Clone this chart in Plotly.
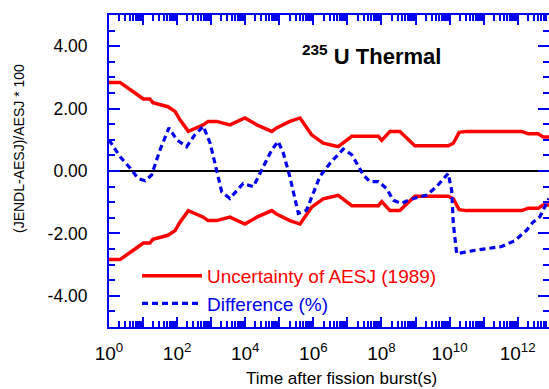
import plotly.graph_objects as go

# ---- data ----
unc_t = [1, 2.1, 5.8, 10.2, 15.8, 19.5, 53.7, 87.1, 120, 214, 589, 813, 1445,
         3548, 9772, 21900, 60300, 83200, 204000, 407000, 891000, 1.95e6,
         3.09e6, 5.37e6, 1.35e7, 8.13e7, 1.02e8, 1.78e8, 3.47e8, 9.55e8,
         9.12e9, 1.29e10, 1.91e10, 3.16e10, 1.32e12, 2.04e12, 3.98e12,
         5.62e12, 8.3e12]
unc_v = [2.84, 2.84, 2.50, 2.31, 2.31, 2.19, 2.06, 1.91, 1.65, 1.27, 1.48,
         1.59, 1.59, 1.48, 1.70, 1.48, 1.27, 1.38, 1.59, 1.70, 1.16, 0.89,
         0.84, 0.78, 1.11, 1.11, 0.98, 1.27, 1.27, 0.81, 0.81, 0.89, 1.24,
         1.27, 1.27, 1.19, 1.19, 1.09, 1.09]
unc_low = [-v for v in unc_v]

diff_t = [1, 2.1, 4.2, 7.2, 11.5, 17.8, 31.6, 57.5, 97.7, 191, 331, 589, 933,
          1445, 2042, 3548, 8710, 17400, 30200, 60300, 93300, 132000,
          204000, 363000, 631000, 1.55e6, 3.09e6, 7.59e6, 1.35e7, 2.95e7,
          4.57e7, 8.13e7, 1.41e8, 2.24e8, 3.89e8, 6.92e8, 2.14e9, 4.17e9,
          9.12e9, 1.15e10, 1.29e10, 1.62e10, 2.82e10, 5.01e10, 3.39e11,
          8.32e11, 1.82e12, 2.88e12, 4.47e12, 8.3e12]
diff_v = [1.00, 0.46, 0.09, -0.24, -0.31, -0.13, 0.68, 1.38, 1.00, 0.78,
          1.16, 1.43, 0.89, 0.03, -0.67, -0.88, -0.40, -0.50, 0.03, 0.68,
          0.95, 0.57, -0.18, -1.36, -1.26, -0.18, 0.25, 0.70, 0.52, -0.13,
          -0.34, -0.34, -0.56, -0.94, -1.04, -0.91, -0.77, -0.50, -0.08,
          -0.61, -1.69, -2.65, -2.60, -2.55, -2.42, -2.23, -1.90, -1.63,
          -1.47, -0.88]

y_ticks = [-4, -2, 0, 2, 4]
y_ticktext = ["-4.00", "-2.00", "0.00", "2.00", "4.00"]
x_decades = list(range(0, 14))
x_labels = ["10<sup>%d</sup>" % k if k % 2 == 0 else "" for k in x_decades]

RED = "#ff0000"
BLUE = "#0000f0"
FONT = "Liberation Sans, Arial, sans-serif"

fig = go.Figure()
fig.add_trace(go.Scatter(x=unc_t, y=unc_v, mode="lines",
                         line=dict(color=RED, width=3.5),
                         name="Uncertainty of AESJ (1989)", legend="legend"))
fig.add_trace(go.Scatter(x=unc_t, y=unc_low, mode="lines",
                         line=dict(color=RED, width=3.5),
                         showlegend=False))
fig.add_trace(go.Scatter(x=diff_t, y=diff_v, mode="lines",
                         line=dict(color=BLUE, width=3.2, dash="6px,4px"),
                         name="Difference (%)", legend="legend2"))

W, H = 549, 389
L, R, T, B = 109, 0, 15, 62
pw, ph = W - L - R, H - T - B

def px(xp):
    return (xp - L) / pw

def py(yp):
    return (H - B - yp) / ph

minor_x = [m * 10 ** k for k in range(0, 13) for m in range(2, 10)]

fig.update_layout(
    width=W, height=H,
    margin=dict(l=L, r=R, t=T, b=B, autoexpand=False),
    paper_bgcolor="white", plot_bgcolor="white",
    font=dict(family=FONT, color="black"),
    xaxis=dict(
        type="log", range=[0, 12.92],
        tickmode="array", tickvals=[10 ** k for k in x_decades],
        ticktext=x_labels,
        ticks="inside", ticklen=10, tickwidth=1.5, tickcolor=BLUE,
        showline=True, linecolor=BLUE, linewidth=2, mirror="ticks",
        showgrid=False, zeroline=False,
        tickfont=dict(size=19, family=FONT, color="black"),
        ticklabelstandoff=8,
        minor=dict(tickmode="array", tickvals=minor_x, ticks="inside",
                   ticklen=6, tickwidth=1.5, tickcolor=BLUE, showgrid=False),
    ),
    yaxis=dict(
        range=[-5, 5],
        tickmode="array", tickvals=y_ticks, ticktext=y_ticktext,
        ticks="inside", ticklen=11, tickwidth=1.5, tickcolor=BLUE,
        showline=True, linecolor=BLUE, linewidth=2, mirror="ticks",
        showgrid=False,
        zeroline=True, zerolinecolor="black", zerolinewidth=1.5,
        tickfont=dict(size=17.5, family=FONT, color="black"),
        ticklabelstandoff=16,
        minor=dict(dtick=0.5, ticks="inside", ticklen=6, tickwidth=1.5,
                   tickcolor=BLUE, showgrid=False),
    ),
    legend=dict(x=px(137), y=py(276), xanchor="left", yanchor="middle",
                bgcolor="rgba(0,0,0,0)", borderwidth=0,
                font=dict(size=19, family=FONT, color=RED), itemwidth=60),
    legend2=dict(x=px(137), y=py(303.5), xanchor="left", yanchor="middle",
                 bgcolor="rgba(0,0,0,0)", borderwidth=0,
                 font=dict(size=19, family=FONT, color=BLUE), itemwidth=60),
    showlegend=True,
)

fig.add_annotation(xref="paper", yref="paper", x=px(371), y=py(55),
                   text="<b><sup>235</sup> U Thermal</b>", showarrow=False,
                   font=dict(size=22, family=FONT, color="black"),
                   xanchor="center", yanchor="middle")
fig.add_annotation(xref="paper", yref="paper", x=px(341), y=py(378),
                   text="Time after fission burst(s)", showarrow=False,
                   font=dict(size=17, family=FONT, color="black"),
                   xanchor="center", yanchor="middle")
fig.add_annotation(xref="paper", yref="paper", x=px(19), y=py(149),
                   text="(JENDL-AESJ)/AESJ * 100", showarrow=False,
                   textangle=-90,
                   font=dict(size=14, family=FONT, color="black"),
                   xanchor="center", yanchor="middle")

fig.write_html("out.html",
               config={"displayModeBar": False},
               post_script="document.body.style.margin='0';"
                           "document.body.style.overflow='hidden';")
